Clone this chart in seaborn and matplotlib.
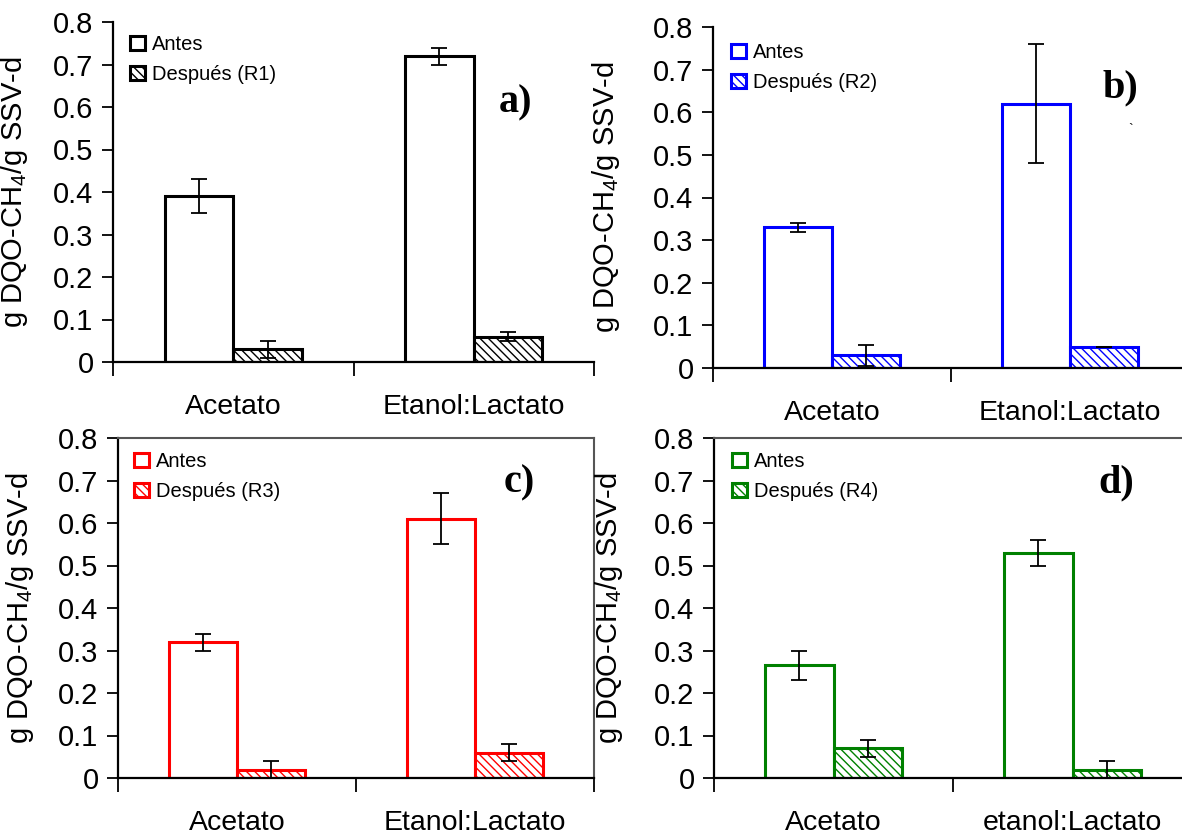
import numpy as np
import pandas as pd
import matplotlib
matplotlib.use("Agg")
import matplotlib.pyplot as plt
import seaborn as sns
from matplotlib.patches import Patch

sns.set_style("ticks")
plt.rcParams['font.family'] = ['Liberation Sans', 'DejaVu Sans']
plt.rcParams['mathtext.default'] = 'regular'
plt.rcParams['hatch.linewidth'] = 1.0
plt.rcParams['text.color'] = 'black'
plt.rcParams['axes.labelcolor'] = 'black'
plt.rcParams['xtick.color'] = 'black'
plt.rcParams['ytick.color'] = 'black'

# data
sustratos = ["Acetato", "Etanol:Lactato"]
sustratos_d = ["Acetato", "etanol:Lactato"]

antes_a = [0.39, 0.72]
antes_a_err = [0.04, 0.02]
despues_a = [0.03, 0.06]
despues_a_err = [0.02, 0.01]

antes_b = [0.33, 0.62]
antes_b_err = [0.01, 0.14]
despues_b = [0.03, 0.05]
despues_b_err = [0.025, 0.0]

antes_c = [0.32, 0.61]
antes_c_err = [0.02, 0.06]
despues_c = [0.02, 0.06]
despues_c_err = [0.02, 0.02]

antes_d = [0.265, 0.53]
antes_d_err = [0.035, 0.03]
despues_d = [0.07, 0.02]
despues_d_err = [0.02, 0.02]

W, H = 1182, 835
fig = plt.figure(figsize=(W / 100, H / 100), dpi=100)


def px_axes(left, right, bottom, top):
    return fig.add_axes([left / W, 1 - bottom / H, (right - left) / W, (bottom - top) / H])


HATCH = "\\\\\\\\"


def panel(ax, cats, antes, antes_err, despues, despues_err, color, reactor, letter_xy, letter,
          leg_xy, ylab_x, framed=False):
    df = pd.DataFrame({
        "sustrato": cats * 2,
        "estado": ["Antes"] * 2 + ["Después"] * 2,
        "valor": antes + despues,
    })
    sns.barplot(data=df, x="sustrato", y="valor", hue="estado", ax=ax, errorbar=None,
                width=0.57, palette=["white", "white"], legend=False, saturation=1)
    errs = [antes_err, despues_err]
    bar_conts = list(ax.containers)
    for i, cont in enumerate(bar_conts):
        xs, ys = [], []
        for p in cont.patches:
            p.set_edgecolor(color)
            p.set_linewidth(2.2)
            if i == 1:
                p.set_hatch(HATCH)
            xs.append(p.get_x() + p.get_width() / 2)
            ys.append(p.get_height())
        ax.errorbar(xs, ys, yerr=errs[i], fmt="none", ecolor="black", elinewidth=1.3,
                    capsize=6, capthick=1.3, zorder=5)
    ax.set_xlim(-0.5, 1.5)
    ax.set_ylim(0, 0.8)
    ax.set_yticks(np.arange(0, 0.81, 0.1))
    ax.set_yticklabels(["0"] + [f"{v:.1f}" for v in np.arange(0.1, 0.81, 0.1)])
    ax.set_xticks([-0.5, 0.5, 1.5])
    ax.set_xticklabels([])
    ax.set_xticks([0, 1], minor=True)
    ax.set_xticklabels(cats, minor=True)
    ax.tick_params(axis="x", which="major", length=10, width=1.3, direction="out")
    ax.tick_params(axis="x", which="minor", length=0, pad=23, labelsize=20.5)
    ax.tick_params(axis="y", length=8, width=1.3, direction="out", labelsize=21, pad=6)
    ax.set_xlabel("")
    ax.set_ylabel("g DQO-CH$_4$/g SSV-d", fontsize=21)
    pos = ax.get_position()
    ax.yaxis.set_label_coords(ylab_x, pos.y0 + pos.height / 2, transform=fig.transFigure)
    for s in ["top", "right"]:
        if framed:
            ax.spines[s].set_color("#555555")
            ax.spines[s].set_linewidth(1.5)
        else:
            ax.spines[s].set_visible(False)
    for s in ["left", "bottom"]:
        ax.spines[s].set_linewidth(1.6)
        ax.spines[s].set_color("black")
    ax.patch.set_alpha(0)
    handles = [
        Patch(facecolor="white", edgecolor=color, linewidth=2.2, label="Antes"),
        Patch(facecolor="white", edgecolor=color, linewidth=2.2, hatch=HATCH,
              label=f"Después ({reactor})"),
    ]
    fig.legend(handles=handles, loc="upper left",
               bbox_to_anchor=(leg_xy[0] / W, 1 - leg_xy[1] / H),
               frameon=False, fontsize=14.5, handlelength=0.75, handleheight=0.75,
               handletextpad=0.35, labelspacing=0.55, borderpad=0, borderaxespad=0)
    fig.text(letter_xy[0] / W, 1 - letter_xy[1] / H, letter, ha="center", va="center",
             fontsize=29, fontweight="bold", family="Liberation Serif")


ax_a = px_axes(113, 594, 362, 22)
panel(ax_a, sustratos, antes_a, antes_a_err, despues_a, despues_a_err, "black", "R1",
      (515, 103), "a)", (130, 35), 30 / W)

ax_b = px_axes(713, 1189, 368, 27)
panel(ax_b, sustratos, antes_b, antes_b_err, despues_b, despues_b_err, "#0000FF", "R2",
      (1120, 88), "b)", (731, 43), 622 / W)

ax_c = px_axes(118, 594, 778, 438)
panel(ax_c, sustratos, antes_c, antes_c_err, despues_c, despues_c_err, "#FF0000", "R3",
      (519, 483), "c)", (134, 452), 36 / W, framed=True)

ax_d = px_axes(714, 1192, 778, 438)
panel(ax_d, sustratos_d, antes_d, antes_d_err, despues_d, despues_d_err, "#008000", "R4",
      (1116, 483), "d)", (732, 452), 625 / W, framed=True)

fig.text(1131 / W, 1 - 130 / H, "`", ha="center", va="center", fontsize=10)

fig.savefig("out.png", dpi=100)
